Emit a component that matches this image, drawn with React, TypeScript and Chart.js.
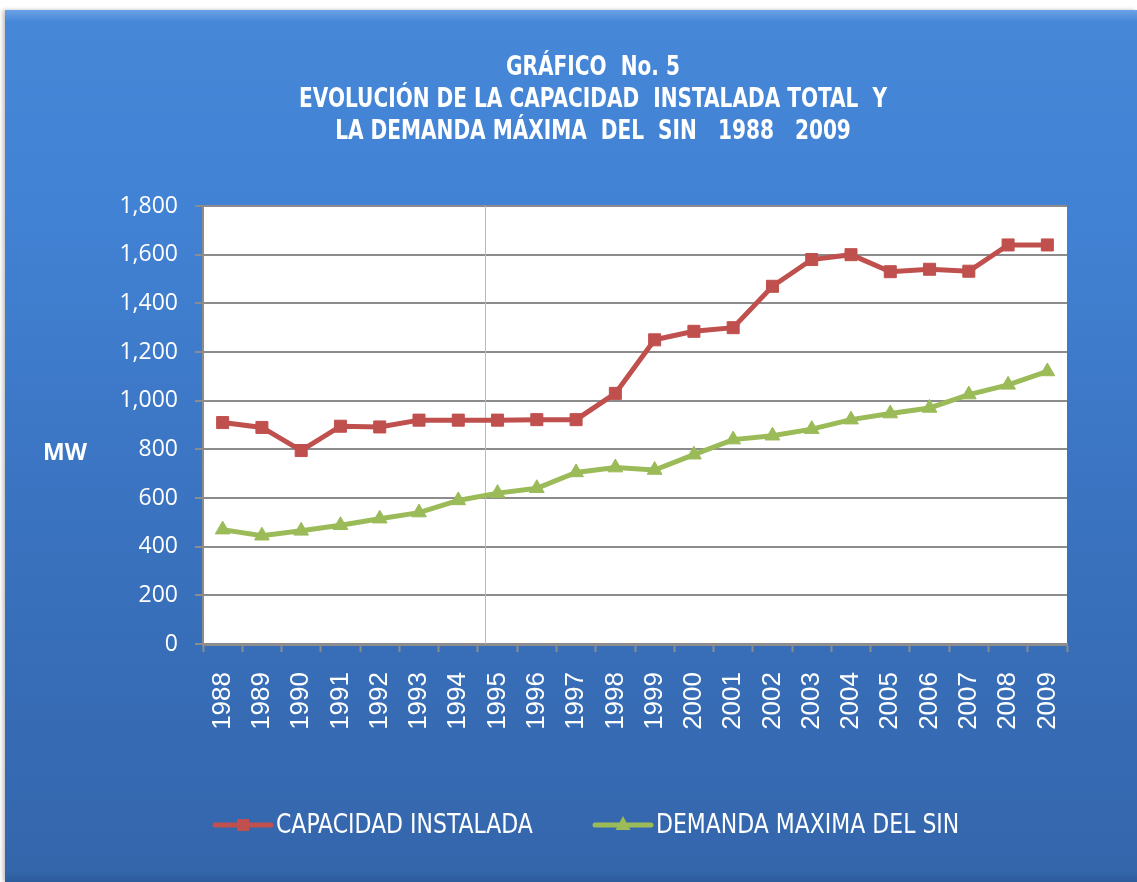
import React, { useEffect, useRef } from "react";
import { Chart, registerables } from "chart.js";

Chart.register(...registerables);

const years = ["1988", "1989", "1990", "1991", "1992", "1993", "1994", "1995", "1996", "1997", "1998", "1999", "2000", "2001", "2002", "2003", "2004", "2005", "2006", "2007", "2008", "2009"];
const capacidadInstalada = [910, 890, 795, 895, 892, 920, 920, 920, 922, 922, 1030, 1250, 1285, 1300, 1470, 1580, 1600, 1530, 1540, 1532, 1640, 1640];
const demandaMaxima = [470, 445, 465, 488, 515, 540, 590, 620, 640, 705, 725, 715, 778, 840, 856, 883, 922, 947, 970, 1025, 1065, 1120];
const yMin = 0;
const yMax = 1800;
const yStep = 200;
const titleLines = ["GRÁFICO  No. 5", "EVOLUCIÓN DE LA CAPACIDAD  INSTALADA TOTAL  Y", "LA DEMANDA MÁXIMA  DEL  SIN   1988   2009"];
const seriesNames = ["CAPACIDAD INSTALADA", "DEMANDA MAXIMA DEL SIN"];
const yAxisLabel = "MW";

const RED = "#c0504d";
const GREEN = "#9bbb59";
const W = 1137;
const H = 882;

export default function App() {
  const canvasRef = useRef<HTMLCanvasElement | null>(null);

  useEffect(() => {
    const canvas = canvasRef.current;
    if (!canvas) return;

    const decorations = {
      id: "decorations",
      beforeDraw(chart: any) {
        const { ctx, chartArea } = chart;
        ctx.save();
        ctx.fillStyle = "#ffffff";
        ctx.fillRect(chartArea.left, chartArea.top, chartArea.right - chartArea.left, chartArea.bottom - chartArea.top);
        ctx.restore();
      },
      beforeDatasetsDraw(chart: any) {
        const { ctx, chartArea, scales } = chart;
        const x = Math.round(scales.x.getPixelForValue(6.68)) + 0.5;
        ctx.save();
        ctx.strokeStyle = "#a9bfdc";
        ctx.lineWidth = 1;
        ctx.beginPath();
        ctx.moveTo(x, chartArea.top);
        ctx.lineTo(x, chartArea.bottom);
        ctx.stroke();
        ctx.restore();
      },
      afterDraw(chart: any) {
        const { ctx } = chart;
        ctx.save();
        ctx.fillStyle = "#ffffff";
        ctx.textAlign = "center";
        ctx.textBaseline = "middle";
        ctx.font = 'bold 26px "Liberation Sans Narrow", "DejaVu Sans Condensed", sans-serif';
        const cx = 593;
        titleLines.forEach((line, i) => {
          ctx.save();
          ctx.translate(cx, 68 + i * 32);
          ctx.scale(0.86, 1);
          ctx.fillText(line, 0, 0);
          ctx.restore();
        });

        ctx.font = 'bold 23px "Open Sans", sans-serif';
        ctx.fillText(yAxisLabel, 65, 453);

        // legend
        const ly = 825;
        const items = [
          { name: seriesNames[0], color: RED, style: "rect", x0: 215 },
          { name: seriesNames[1], color: GREEN, style: "triangle", x0: 595 },
        ];
        ctx.font = '26px "Liberation Sans Narrow", "DejaVu Sans Condensed", sans-serif';
        ctx.textAlign = "left";
        items.forEach((it) => {
          ctx.strokeStyle = it.color;
          ctx.lineWidth = 5;
          ctx.lineCap = "round";
          ctx.beginPath();
          ctx.moveTo(it.x0, ly);
          ctx.lineTo(it.x0 + 56, ly);
          ctx.stroke();
          ctx.fillStyle = it.color;
          const mx = it.x0 + 28;
          if (it.style === "rect") {
            ctx.fillRect(mx - 6, ly - 6, 12, 12);
          } else {
            ctx.beginPath();
            ctx.moveTo(mx, ly - 9);
            ctx.lineTo(mx + 7.5, ly + 5);
            ctx.lineTo(mx - 7.5, ly + 5);
            ctx.closePath();
            ctx.fill();
          }
          ctx.fillStyle = "#ffffff";
          ctx.save();
          ctx.translate(it.x0 + 61, ly + 1);
          ctx.scale(0.94, 1.05);
          ctx.fillText(it.name, 0, 0);
          ctx.restore();
        });
        ctx.restore();
      },
    };

    const chart = new Chart(canvas, {
      type: "line",
      data: {
        labels: years,
        datasets: [
          {
            label: seriesNames[0],
            data: capacidadInstalada,
            borderColor: RED,
            backgroundColor: RED,
            borderWidth: 5,
            pointStyle: "rect",
            pointRadius: 8.5,
            pointBorderWidth: 1,
            pointBorderColor: RED,
            pointBackgroundColor: RED,
            tension: 0,
          },
          {
            label: seriesNames[1],
            data: demandaMaxima,
            borderColor: GREEN,
            backgroundColor: GREEN,
            borderWidth: 5,
            pointStyle: "triangle",
            pointRadius: 8.5,
            pointBorderWidth: 1,
            pointBorderColor: GREEN,
            pointBackgroundColor: GREEN,
            tension: 0,
          },
        ],
      },
      options: {
        responsive: false,
        animation: false,
        layout: { padding: { top: 206, right: 70, bottom: 0, left: 0 } },
        plugins: {
          legend: { display: false },
          title: { display: false },
          tooltip: { enabled: false },
        },
        scales: {
          x: {
            type: "category",
            offset: true,
            grid: {
              offset: true,
              drawOnChartArea: false,
              drawTicks: true,
              tickLength: 8,
              tickColor: "#8c8c8c",
              tickWidth: 2,
            },
            border: { display: true, color: "#8c8c8c", width: 3 },
            ticks: {
              color: "#ffffff",
              font: { family: '"Liberation Sans", Arial, sans-serif', size: 26 },
              minRotation: 90,
              maxRotation: 90,
              padding: 20,
              autoSkip: false,
            },
            afterFit(scale: any) {
              scale.height = 238;
            },
          },
          y: {
            min: yMin,
            max: yMax,
            ticks: {
              stepSize: yStep,
              color: "#ffffff",
              font: { family: '"Open Sans", sans-serif', size: 23 },
              padding: 17,
              callback: (v: any) => Number(v).toLocaleString("en-US"),
            },
            grid: {
              color: "#8c8c8c",
              lineWidth: 2,
              drawTicks: true,
              tickLength: 8,
              tickColor: "#8c8c8c",
            },
            border: { display: true, color: "#8c8c8c", width: 2 },
            afterFit(scale: any) {
              scale.width = 203;
            },
          },
        },
      },
      plugins: [decorations],
    });

    return () => chart.destroy();
  }, []);

  return (
    <div style={{ position: "fixed", left: 0, top: 0, width: W, height: H, background: "#ffffff", overflow: "hidden" }}>
      <div
        style={{
          position: "absolute",
          left: 5,
          top: 10,
          right: 0,
          bottom: 0,
          background: "linear-gradient(to bottom, #6aa2e6 0px, #4787d8 12px, #4282d4 200px, #3a73c0 500px, #3466ac 860px, #2e5c9c 872px)",
          boxShadow: "-2px 0 4px rgba(0,0,0,0.25)",
        }}
      />
      <canvas ref={canvasRef} width={W} height={H} style={{ position: "absolute", left: 0, top: 0, width: W, height: H }} />
    </div>
  );
}
